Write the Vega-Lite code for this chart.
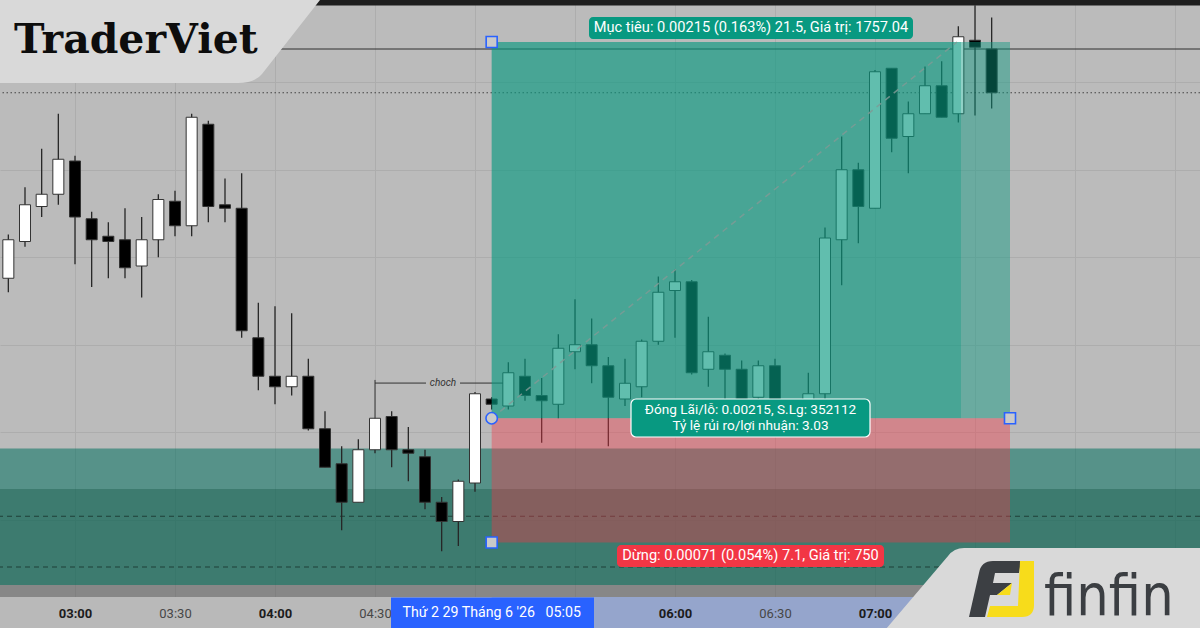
{
  "$schema": "https://vega.github.io/schema/vega-lite/v6.json",
  "width": 1200,
  "height": 628,
  "autosize": "none",
  "padding": 0,
  "background": "#bbbbbb",
  "config": {"view": {"stroke": null}, "scale": {"continuousPadding": 0}},
  "resolve": {"axis": {"x": "independent", "y": "independent"}},
  "datasets": {
    "candles": [
      {"t":160,"o":1.31938,"h":1.31963,"l":1.31930,"c":1.31960},
      {"t":165,"o":1.31959,"h":1.31990,"l":1.31956,"c":1.31980},
      {"t":170,"o":1.31979,"h":1.32012,"l":1.31973,"c":1.31986},
      {"t":175,"o":1.31986,"h":1.32032,"l":1.31980,"c":1.32006},
      {"t":180,"o":1.32005,"h":1.32008,"l":1.31946,"c":1.31973},
      {"t":185,"o":1.31972,"h":1.31976,"l":1.31933,"c":1.31960},
      {"t":190,"o":1.31962,"h":1.31970,"l":1.31938,"c":1.31959},
      {"t":195,"o":1.31960,"h":1.31978,"l":1.31938,"c":1.31944},
      {"t":200,"o":1.31945,"h":1.31973,"l":1.31927,"c":1.31960},
      {"t":205,"o":1.31960,"h":1.31986,"l":1.31950,"c":1.31983},
      {"t":210,"o":1.31982,"h":1.31988,"l":1.31962,"c":1.31968},
      {"t":215,"o":1.31968,"h":1.32032,"l":1.31962,"c":1.32030},
      {"t":220,"o":1.32026,"h":1.32028,"l":1.31970,"c":1.31979},
      {"t":225,"o":1.31980,"h":1.31995,"l":1.31970,"c":1.31978},
      {"t":230,"o":1.31978,"h":1.31998,"l":1.31904,"c":1.31908},
      {"t":235,"o":1.31904,"h":1.31924,"l":1.31874,"c":1.31882},
      {"t":240,"o":1.31882,"h":1.31922,"l":1.31866,"c":1.31876},
      {"t":245,"o":1.31876,"h":1.31918,"l":1.31871,"c":1.31882},
      {"t":250,"o":1.31882,"h":1.31892,"l":1.31851,"c":1.31852},
      {"t":255,"o":1.31852,"h":1.31862,"l":1.31830,"c":1.31830},
      {"t":260,"o":1.31832,"h":1.31842,"l":1.31794,"c":1.31810},
      {"t":265,"o":1.31810,"h":1.31846,"l":1.31810,"c":1.31840},
      {"t":270,"o":1.31840,"h":1.31858,"l":1.31838,"c":1.31858},
      {"t":275,"o":1.31859,"h":1.31862,"l":1.31830,"c":1.31840},
      {"t":280,"o":1.31840,"h":1.31853,"l":1.31822,"c":1.31838},
      {"t":285,"o":1.31836,"h":1.31840,"l":1.31806,"c":1.31810},
      {"t":290,"o":1.31810,"h":1.31813,"l":1.31782,"c":1.31799},
      {"t":295,"o":1.31799,"h":1.31823,"l":1.31785,"c":1.31822},
      {"t":300,"o":1.31821,"h":1.31873,"l":1.31816,"c":1.31872},
      {"t":305,"o":1.31869,"h":1.31870,"l":1.31863,"c":1.31866},
      {"t":310,"o":1.31865,"h":1.31890,"l":1.31863,"c":1.31884},
      {"t":315,"o":1.31882,"h":1.31892,"l":1.31868,"c":1.31871},
      {"t":320,"o":1.31871,"h":1.31881,"l":1.31844,"c":1.31868},
      {"t":325,"o":1.31866,"h":1.31906,"l":1.31858,"c":1.31898},
      {"t":330,"o":1.31896,"h":1.31926,"l":1.31886,"c":1.31900},
      {"t":335,"o":1.31900,"h":1.31915,"l":1.31878,"c":1.31888},
      {"t":340,"o":1.31888,"h":1.31893,"l":1.31842,"c":1.31870},
      {"t":345,"o":1.31869,"h":1.31892,"l":1.31865,"c":1.31878},
      {"t":350,"o":1.31876,"h":1.31903,"l":1.31870,"c":1.31902},
      {"t":355,"o":1.31902,"h":1.31939,"l":1.31900,"c":1.31930},
      {"t":360,"o":1.31931,"h":1.31943,"l":1.31904,"c":1.31936},
      {"t":365,"o":1.31936,"h":1.31937,"l":1.31883,"c":1.31884},
      {"t":370,"o":1.31886,"h":1.31916,"l":1.31876,"c":1.31896},
      {"t":375,"o":1.31894,"h":1.31895,"l":1.31868,"c":1.31886},
      {"t":380,"o":1.31886,"h":1.31891,"l":1.31866,"c":1.31868},
      {"t":385,"o":1.31870,"h":1.31891,"l":1.31867,"c":1.31888},
      {"t":390,"o":1.31888,"h":1.31892,"l":1.31864,"c":1.31868},
      {"t":395,"o":1.31868,"h":1.31869,"l":1.31858,"c":1.31862},
      {"t":400,"o":1.31866,"h":1.31884,"l":1.31863,"c":1.31872},
      {"t":405,"o":1.31872,"h":1.31967,"l":1.31868,"c":1.31961},
      {"t":410,"o":1.31960,"h":1.32019,"l":1.31934,"c":1.32000},
      {"t":415,"o":1.32000,"h":1.32004,"l":1.31958,"c":1.31979},
      {"t":420,"o":1.31978,"h":1.32057,"l":1.31978,"c":1.32056},
      {"t":425,"o":1.32058,"h":1.32058,"l":1.32010,"c":1.32018},
      {"t":430,"o":1.32019,"h":1.32039,"l":1.31998,"c":1.32032},
      {"t":435,"o":1.32032,"h":1.32059,"l":1.32032,"c":1.32048},
      {"t":440,"o":1.32048,"h":1.32062,"l":1.32030,"c":1.32030},
      {"t":445,"o":1.32032,"h":1.32082,"l":1.32027,"c":1.32076},
      {"t":450,"o":1.32074,"h":1.32094,"l":1.32031,"c":1.32070},
      {"t":455,"o":1.32069,"h":1.32087,"l":1.32035,"c":1.32044}
    ]
  },
  "layer": [
    {"data":{"values":[{}]},"mark":{"type":"rect","fill":"#1e1e1e"},
     "encoding":{"x":{"datum":157.5,"type":"quantitative","axis":null},"x2":{"datum":517.5},
                 "y":{"datum":1.320939,"type":"quantitative","axis":null},"y2":{"datum":1.32097}}},
    {"data":{"values":[{}]},"mark":{"type":"rect","fill":"#006e5f","opacity":0.54},
     "encoding":{"x":{"datum":157.5,"type":"quantitative","axis":null},"x2":{"datum":517.5},
                 "y":{"datum":1.317627,"type":"quantitative","axis":null},"y2":{"datum":1.318407}}},
    {"data":{"values":[{}]},"mark":{"type":"rect","fill":"#1e5f50","opacity":0.45},
     "encoding":{"x":{"datum":157.5,"type":"quantitative","axis":null},"x2":{"datum":517.5},
                 "y":{"datum":1.317627,"type":"quantitative","axis":null},"y2":{"datum":1.318176}}},
    {"data":{"values":[{}]},"mark":{"type":"rect","fill":"#4a4a4a","opacity":0.45},
     "encoding":{"x":{"datum":157.5,"type":"quantitative","axis":null},"x2":{"datum":517.5},
                 "y":{"datum":1.317559,"type":"quantitative","axis":null},"y2":{"datum":1.317627}}},
    {"data":{"values":[{}]},"mark":{"type":"rect","fill":"#b9b9b9"},
     "encoding":{"x":{"datum":157.5,"type":"quantitative","axis":null},"x2":{"datum":517.5},
                 "y":{"datum":1.317381429,"type":"quantitative","axis":null},"y2":{"datum":1.317559}}},
    {"data":{"values":[{}]},"mark":{"type":"rect","fill":"#95a5cc"},
     "encoding":{"x":{"datum":305,"type":"quantitative","axis":null},"x2":{"datum":460.5},
                 "y":{"datum":1.317381429,"type":"quantitative","axis":null},"y2":{"datum":1.317559}}},
    {"data":{"values":[{}]},"mark":{"type":"rule","color":"#2e2e2e","strokeWidth":1},
     "encoding":{"y":{"datum":1.32069,"type":"quantitative","axis":null}}},
    {"data":{"values":[{}]},"mark":{"type":"rule","color":"#444444","strokeWidth":1.2,"strokeDash":[1.5,2.5]},
     "encoding":{"y":{"datum":1.32044,"type":"quantitative","axis":null}}},
    {"data":{"values":[{}]},"mark":{"type":"rule","color":"#1f4039","strokeWidth":1,"strokeDash":[5,4]},
     "encoding":{"y":{"datum":1.31802,"type":"quantitative","axis":null}}},
    {"data":{"values":[{}]},"mark":{"type":"rule","color":"#1f4039","strokeWidth":1,"strokeDash":[5,4]},
     "encoding":{"y":{"datum":1.31773,"type":"quantitative","axis":null}}},
    {"data":{"name":"candles"},"mark":{"type":"rule","color":"#262626","strokeWidth":1.3},
     "encoding":{
       "x":{"field":"t","type":"quantitative","scale":{"domain":[157.5,517.5],"nice":false,"zero":false,"padding":0},
            "axis":{"orient":"top","grid":true,"gridColor":"#adadad","gridWidth":1,"labels":false,"ticks":false,"domain":false,"title":null,
                    "values":[180,210,240,270,300,330,360,390,420,450,480,510]}},
       "y":{"field":"l","type":"quantitative","scale":{"domain":[1.317381429,1.32097],"nice":false,"zero":false,"padding":0},
            "axis":{"orient":"left","grid":true,"gridColor":"#adadad","gridWidth":1,"labels":false,"ticks":false,"domain":false,"title":null,
                    "values":[1.318,1.3185,1.319,1.3195,1.32,1.3205]}},
       "y2":{"field":"h"}}},
    {"data":{"name":"candles"},"mark":{"type":"bar","size":11,"stroke":"#333333","strokeWidth":1},
     "encoding":{
       "x":{"field":"t","type":"quantitative","scale":{"padding":0},
            "axis":{"orient":"bottom","offset":-31,"values":[180,210,240,270,360,390,420],
                    "labelExpr":"format(floor(datum.value/60),'02d') + ':' + format(datum.value%60,'02d')",
                    "grid":false,"ticks":false,"tickSize":0,"domain":false,"title":null,
                    "labelFont":"Roboto","labelFontSize":13,"labelPadding":16,"labelBaseline":"middle",
                    "labelColor":{"condition":{"test":"datum.value % 60 === 0","value":"#1c1c1c"},"value":"#474747"},
                    "labelFontWeight":{"condition":{"test":"datum.value % 60 === 0","value":"bold"},"value":"normal"},
                    "labelOverlap":false,"labelFlush":false,"labelBound":false,"zindex":1}},
       "y":{"field":"o","type":"quantitative","axis":null},
       "y2":{"field":"c"},
       "fill":{"condition":{"test":"datum.c >= datum.o","value":"#ffffff"},"value":"#000000"}}},
    {"data":{"values":[{}]},"mark":{"type":"rule","color":"#333333","strokeWidth":1},
     "encoding":{"x":{"datum":270,"type":"quantitative","axis":null},
                 "y":{"datum":1.318799,"type":"quantitative","axis":null},"y2":{"datum":1.31858}}},
    {"data":{"values":[{}]},"mark":{"type":"rule","color":"#333333","strokeWidth":1},
     "encoding":{"x":{"datum":270,"type":"quantitative","axis":null},"x2":{"datum":285.3},
                 "y":{"datum":1.318781,"type":"quantitative","axis":null}}},
    {"data":{"values":[{}]},"mark":{"type":"rule","color":"#333333","strokeWidth":1},
     "encoding":{"x":{"datum":295.5,"type":"quantitative","axis":null},"x2":{"datum":308.4},
                 "y":{"datum":1.318781,"type":"quantitative","axis":null}}},
    {"data":{"values":[{}]},"mark":{"type":"text","font":"Roboto","fontSize":10,"fontStyle":"italic","color":"#333333","align":"center","baseline":"middle"},
     "encoding":{"x":{"datum":290.4,"type":"quantitative","axis":null},
                 "y":{"datum":1.318781,"type":"quantitative","axis":null},"text":{"value":"choch"}}},
    {"data":{"values":[{}]},"mark":{"type":"rect","fill":"#089981","opacity":0.64},
     "encoding":{"x":{"datum":305,"type":"quantitative","axis":null},"x2":{"datum":445.8},
                 "y":{"datum":1.31858,"type":"quantitative","axis":null},"y2":{"datum":1.32073}}},
    {"data":{"values":[{}]},"mark":{"type":"rect","fill":"#089981","opacity":0.45},
     "encoding":{"x":{"datum":445.8,"type":"quantitative","axis":null},"x2":{"datum":460.5},
                 "y":{"datum":1.31858,"type":"quantitative","axis":null},"y2":{"datum":1.32073}}},
    {"data":{"values":[{}]},"mark":{"type":"rect","fill":"#f23645","opacity":0.4},
     "encoding":{"x":{"datum":305,"type":"quantitative","axis":null},"x2":{"datum":460.5},
                 "y":{"datum":1.31787,"type":"quantitative","axis":null},"y2":{"datum":1.31858}}},
    {"data":{"values":[{}]},"mark":{"type":"rule","color":"#7f9a95","strokeWidth":1.5,"strokeDash":[6,5],"opacity":0.85},
     "encoding":{"x":{"datum":305,"type":"quantitative","axis":null},"x2":{"datum":444.6},
                 "y":{"datum":1.31858,"type":"quantitative","axis":null},"y2":{"datum":1.32073}}},
    {"data":{"values":[{}]},"mark":{"type":"rect","fill":"#089981","cornerRadius":4},
     "encoding":{"x":{"datum":334.2,"type":"quantitative","axis":null},"x2":{"datum":431.4},
                 "y":{"datum":1.320747,"type":"quantitative","axis":null},"y2":{"datum":1.320873}}},
    {"data":{"values":[{}]},"mark":{"type":"text","font":"Roboto","fontSize":14.6,"color":"#ffffff","align":"center","baseline":"middle"},
     "encoding":{"x":{"datum":382.8,"type":"quantitative","axis":null},
                 "y":{"datum":1.32081,"type":"quantitative","axis":null},
                 "text":{"value":"Mục tiêu: 0.00215 (0.163%) 21.5, Giá trị: 1757.04"}}},
    {"data":{"values":[{}]},"mark":{"type":"rect","fill":"#089981","stroke":"#ffffff","strokeWidth":1.2,"cornerRadius":5},
     "encoding":{"x":{"datum":346.8,"type":"quantitative","axis":null},"x2":{"datum":418.5},
                 "y":{"datum":1.318473,"type":"quantitative","axis":null},"y2":{"datum":1.31869}}},
    {"data":{"values":[{}]},"mark":{"type":"text","font":"Roboto","fontSize":13.6,"color":"#ffffff","align":"center","baseline":"middle"},
     "encoding":{"x":{"datum":382.65,"type":"quantitative","axis":null},
                 "y":{"datum":1.318627,"type":"quantitative","axis":null},
                 "text":{"value":"Đóng Lãi/lỗ: 0.00215, S.Lg: 352112"}}},
    {"data":{"values":[{}]},"mark":{"type":"text","font":"Roboto","fontSize":13.6,"color":"#ffffff","align":"center","baseline":"middle"},
     "encoding":{"x":{"datum":382.65,"type":"quantitative","axis":null},
                 "y":{"datum":1.318533,"type":"quantitative","axis":null},
                 "text":{"value":"Tỷ lệ rủi ro/lợi nhuận: 3.03"}}},
    {"data":{"values":[{}]},"mark":{"type":"rect","fill":"#f23645","cornerRadius":4},
     "encoding":{"x":{"datum":342.6,"type":"quantitative","axis":null},"x2":{"datum":422.7},
                 "y":{"datum":1.31773,"type":"quantitative","axis":null},"y2":{"datum":1.317856}}},
    {"data":{"values":[{}]},"mark":{"type":"text","font":"Roboto","fontSize":14.6,"color":"#ffffff","align":"center","baseline":"middle"},
     "encoding":{"x":{"datum":382.65,"type":"quantitative","axis":null},
                 "y":{"datum":1.317793,"type":"quantitative","axis":null},
                 "text":{"value":"Dừng: 0.00071 (0.054%) 7.1, Giá trị: 750"}}},
    {"data":{"values":[{}]},"mark":{"type":"point","shape":"square","size":121,"filled":true,"fill":"#c9c9c9","stroke":"#2962ff","strokeWidth":1.6,"opacity":1},
     "encoding":{"x":{"datum":305,"type":"quantitative","axis":null},"y":{"datum":1.32073,"type":"quantitative","axis":null}}},
    {"data":{"values":[{}]},"mark":{"type":"point","shape":"square","size":121,"filled":true,"fill":"#c9c9c9","stroke":"#2962ff","strokeWidth":1.6,"opacity":1},
     "encoding":{"x":{"datum":460.5,"type":"quantitative","axis":null},"y":{"datum":1.31858,"type":"quantitative","axis":null}}},
    {"data":{"values":[{}]},"mark":{"type":"point","shape":"square","size":121,"filled":true,"fill":"#c9c9c9","stroke":"#2962ff","strokeWidth":1.6,"opacity":1},
     "encoding":{"x":{"datum":305,"type":"quantitative","axis":null},"y":{"datum":1.31787,"type":"quantitative","axis":null}}},
    {"data":{"values":[{}]},"mark":{"type":"point","shape":"circle","size":130,"filled":true,"fill":"#c9c9c9","stroke":"#2962ff","strokeWidth":1.6,"opacity":1},
     "encoding":{"x":{"datum":305,"type":"quantitative","axis":null},"y":{"datum":1.31858,"type":"quantitative","axis":null}}},
    {"data":{"values":[{}]},"mark":{"type":"rect","fill":"#2962ff"},
     "encoding":{"x":{"datum":274.8,"type":"quantitative","axis":null},"x2":{"datum":335.7},
                 "y":{"datum":1.317381429,"type":"quantitative","axis":null},"y2":{"datum":1.317556}}},
    {"data":{"values":[{}]},"mark":{"type":"text","font":"Roboto","fontSize":14.2,"color":"#ffffff","align":"center","baseline":"middle"},
     "encoding":{"x":{"datum":305,"type":"quantitative","axis":null},
                 "y":{"datum":1.317467,"type":"quantitative","axis":null},
                 "text":{"value":"Thứ 2 29 Tháng 6 '26\u00a0\u00a0\u00a005:05"}}},
    {"data":{"values":[{}]},"mark":{"type":"point","shape":"M-1.05,-0.3 L1.0217,-0.3012 L0.6273,0.2019 Q0.5839,0.2578 0.4783,0.2578 L-1.05,0.2578 Z","size":103684,"filled":true,"fill":"#d9d9d9","strokeWidth":0,"opacity":1},
     "encoding":{"x":{"datum":205.8,"type":"quantitative","axis":null},"y":{"datum":1.320733,"type":"quantitative","axis":null}}},
    {"data":{"values":[{}]},"mark":{"type":"text","font":"DejaVu Serif","fontSize":41,"fontWeight":"bold","color":"#0d0d0d","align":"left","baseline":"alphabetic"},
     "encoding":{"x":{"datum":161.7,"type":"quantitative","axis":null},
                 "y":{"datum":1.320667,"type":"quantitative","axis":null},"text":{"value":"TraderViet"}}},
    {"data":{"values":[{}]},"mark":{"type":"point","shape":"M-1.031,0.3 L-0.606,-0.2 Q-0.569,-0.25 -0.506,-0.25 L1.019,-0.25 L1.019,0.3 Z","size":102400,"filled":true,"fill":"#d9d9d9","strokeWidth":0,"opacity":1},
     "encoding":{"x":{"datum":471,"type":"quantitative","axis":null},"y":{"datum":1.31761,"type":"quantitative","axis":null}}},
    {"data":{"values":[{}]},"mark":{"type":"point","shape":"M-0.985,0.848 L-0.682,-0.485 Q-0.621,-0.848 -0.258,-0.848 L0.591,-0.848 L0.53,-0.485 L-0.197,-0.485 L-0.258,-0.182 L0.318,-0.182 L-0.136,0.182 L-0.348,0.182 L-0.5,0.848 Z","size":4356,"filled":true,"fill":"#3c3f43","strokeWidth":0,"opacity":1},
     "encoding":{"x":{"datum":457.95,"type":"quantitative","axis":null},"y":{"datum":1.317604,"type":"quantitative","axis":null}}},
    {"data":{"values":[{}]},"mark":{"type":"point","shape":"M0.561,-0.848 L0.985,-0.848 L0.985,0.485 Q0.985,0.848 0.621,0.848 L-0.439,0.848 L-0.348,0.515 L0.5,0.515 Z M0.318,-0.182 L0.258,0.182 L-0.136,0.182 Z","size":4356,"filled":true,"fill":"#f7dc1b","strokeWidth":0,"opacity":1},
     "encoding":{"x":{"datum":457.95,"type":"quantitative","axis":null},"y":{"datum":1.317604,"type":"quantitative","axis":null}}},
    {"data":{"values":[{}]},"mark":{"type":"text","font":"'Liberation Sans Narrow', 'DejaVu Sans Condensed', sans-serif","fontSize":57,"color":"#3b3e42","align":"left","baseline":"alphabetic"},
     "encoding":{"x":{"datum":470.7,"type":"quantitative","axis":null},
                 "y":{"datum":1.317456,"type":"quantitative","axis":null},"text":{"value":"finfin"}}}
  ]
}
